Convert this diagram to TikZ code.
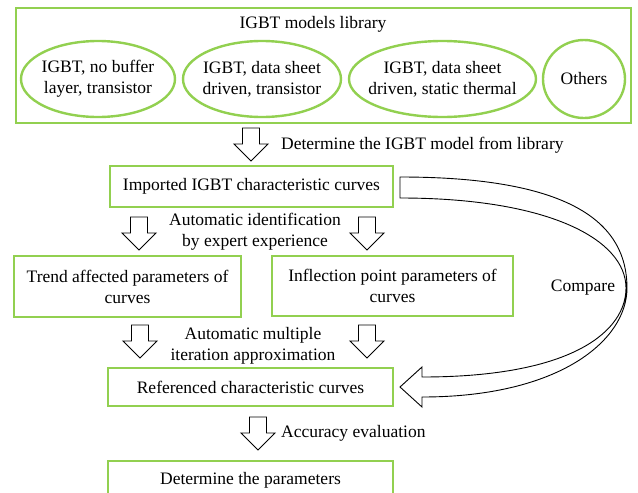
\documentclass[tikz,border=0pt]{standalone}
\usepackage{fontspec}
\setmainfont{Liberation Serif}
\usetikzlibrary{shapes.geometric}
\definecolor{lgreen}{HTML}{92D050}
\begin{document}
\begin{tikzpicture}[x=1pt,y=-1pt,
  every node/.style={font=\fontsize{17.5}{21}\selectfont, align=center, inner sep=1pt},
  gbox/.style={draw=lgreen, line width=2.4pt, rectangle},
  gell/.style={draw=lgreen, line width=2.4pt, ellipse, inner sep=0pt},
  blockdown/.pic={\draw[line width=0.9pt, fill=white, line join=miter]
    (-8.5,0) -- (8.5,0) -- (8.5,16) -- (17,16) -- (0,33) -- (-17,16) -- (-8.5,16) -- cycle;}
]
\useasboundingbox (0,0) rectangle (638,493);
\clip (0,0) rectangle (638,493);

% library
\node[gbox, minimum width=615pt, minimum height=115pt] (lib) at (323.5,65.5) {};
\node (libt) at (313,24) {IGBT models library};
\node[gell, minimum width=154pt, minimum height=76pt] (e1) at (98,79) {};
\node (e1t) at (e1) {IGBT, no buffer\\layer, transistor};
\node[gell, minimum width=158pt, minimum height=76pt] (e2) at (262,79) {};
\node (e2t) at (e2) {IGBT, data sheet\\driven, transistor};
\node[gell, minimum width=187pt, minimum height=76pt] (e3) at (442.5,79) {};
\node (e3t) at (e3) {IGBT, data sheet\\driven, static thermal};
\node[gell, minimum width=82pt, minimum height=78pt] (e4) at (584,79) {};
\node (e4t) at (e4) {Others};

% arrow 1
\pic (a1) at (251,128) {blockdown};
\node[anchor=west] (l1) at (280,145) {Determine the IGBT model from library};

\node[gbox, minimum width=283pt, minimum height=41pt] (imp) at (251.5,186.5) {Imported IGBT characteristic curves};

\pic (a2) at (139,217) {blockdown};
\pic (a3) at (367,217) {blockdown};
\node (l2) at (255,232) {Automatic identification\\by expert experience};

\node[gbox, minimum width=227pt, minimum height=61pt] (trend) at (127.5,286.5) {Trend affected parameters of\\curves};
\node[gbox, minimum width=241pt, minimum height=60pt] (infl) at (392.5,286) {Inflection point parameters of\\curves};

\pic (a4) at (140,325) {blockdown};
\pic (a5) at (367,325) {blockdown};
\node (l3) at (253,346) {Automatic multiple\\iteration approximation};

\node[gbox, minimum width=285pt, minimum height=38pt] (ref) at (250.5,387) {Referenced characteristic curves};

\pic (a6) at (258,417) {blockdown};
\node[anchor=west] (l4) at (280,433) {Accuracy evaluation};

\node[gbox, minimum width=285pt, minimum height=38pt] (det) at (250.5,480) {Determine the parameters};

% curved compare arrow
\coordinate (cs) at (imp.east);
\draw[line width=0.9pt, line join=miter]
  (400,177) -- (400,198)
  .. controls (550,198) and (626,240) .. (626,288)
  .. controls (626,330) and (575,377) .. (422,377)
  -- (422,367) -- (400,387) -- (422,407) -- (422,397)
  .. controls (560,397) and (627,340) .. (627,288)
  .. controls (627,225) and (575,177) .. cycle;
\node (cmp) at (583,288) {Compare};
\end{tikzpicture}
\end{document}
